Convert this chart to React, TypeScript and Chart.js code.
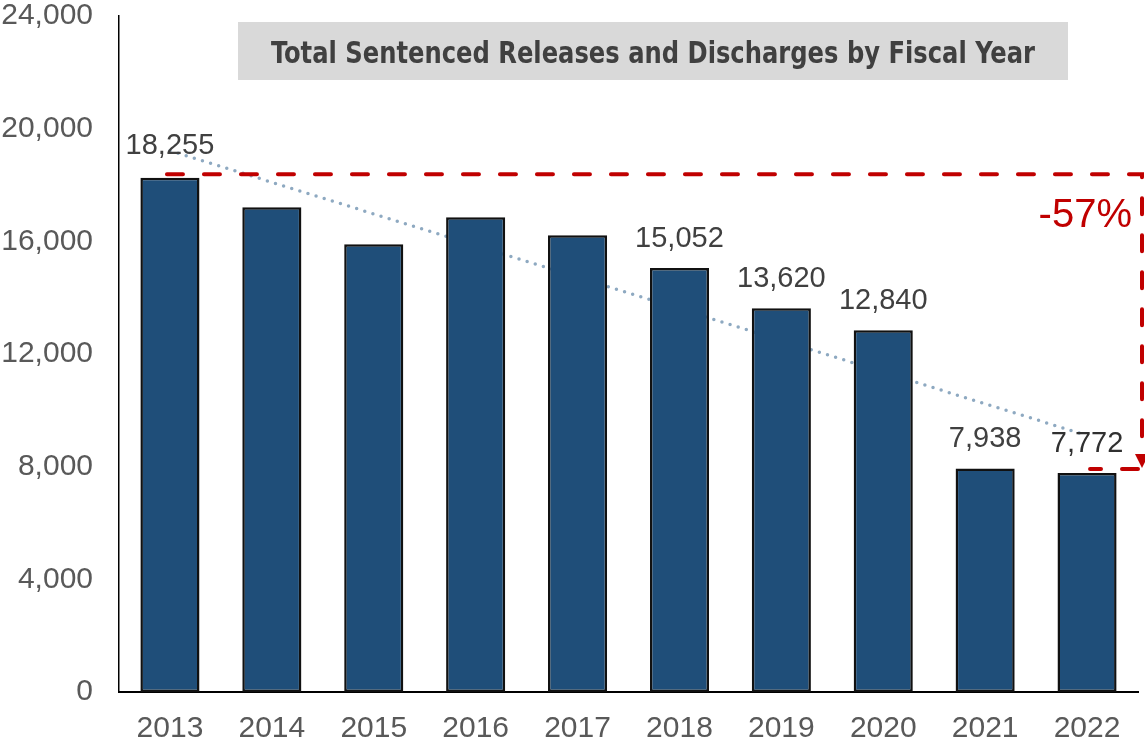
import React, { useEffect, useRef } from "react";
import { Chart, registerables } from "chart.js";

Chart.register(...registerables);

const years = ["2013", "2014", "2015", "2016", "2017", "2018", "2019", "2020", "2021", "2022"];
const releases = [18255, 17209, 15893, 16853, 16213, 15052, 13620, 12840, 7938, 7772];
const labelled = [true, false, false, false, false, true, true, true, true, true];
const trend = [19220, null, null, null, null, null, null, null, null, 9109];
const yTicks = [0, 4000, 8000, 12000, 16000, 20000, 24000];
const titleText = "Total Sentenced Releases and Discharges by Fiscal Year";
const changeText = "-57%";

const fmt = (v: number) => v.toLocaleString("en-US");

export default function App() {
  const ref = useRef<HTMLCanvasElement | null>(null);

  useEffect(() => {
    document.body.style.margin = "0";
    const canvas = ref.current;
    if (!canvas) return;

    const overlay = {
      id: "overlay",
      afterDatasetsDraw(chart: any) {
        const ctx = chart.ctx;
        const meta = chart.getDatasetMeta(1);
        const area = chart.chartArea;
        // data labels
        ctx.save();
        ctx.font = "29px 'Liberation Sans'";
        ctx.textAlign = "center";
        ctx.textBaseline = "middle";
        meta.data.forEach((bar: any, i: number) => {
          if (!labelled[i]) return;
          ctx.fillStyle = i === releases.length - 1 ? "#303030" : "#404040";
          ctx.fillText(fmt(releases[i]), bar.x, bar.y - (i === 0 ? 32 : 29));
        });
        ctx.restore();

        // red dashed annotation
        const first = meta.data[0];
        const last = meta.data[releases.length - 1];
        const yTop = first.y - 3.5;
        const yBot = last.y - 4;
        const xRight = area.right + 4;
        ctx.save();
        ctx.strokeStyle = "#C00000";
        ctx.lineWidth = 4;
        ctx.lineCap = "round";
        ctx.setLineDash([16, 21]);
        ctx.beginPath();
        ctx.moveTo(first.x - 3, yTop);
        ctx.lineTo(xRight, yTop);
        ctx.lineTo(xRight, yBot - 12);
        ctx.stroke();
        ctx.beginPath();
        ctx.moveTo(xRight - 4, yBot);
        ctx.lineTo(last.x + 3, yBot);
        ctx.stroke();
        ctx.setLineDash([]);
        ctx.fillStyle = "#C00000";
        ctx.beginPath();
        ctx.moveTo(xRight - 7, yBot - 15);
        ctx.lineTo(xRight + 7, yBot - 15);
        ctx.lineTo(xRight, yBot - 1);
        ctx.closePath();
        ctx.fill();
        ctx.font = "40px 'Liberation Sans'";
        ctx.textAlign = "right";
        ctx.textBaseline = "alphabetic";
        ctx.fillText(changeText, xRight - 10, yTop + 53);
        ctx.restore();

        // title box
        ctx.save();
        ctx.fillStyle = "#D9D9D9";
        ctx.fillRect(238, 22, 830, 58);
        ctx.fillStyle = "#404040";
        ctx.font = "bold 30px 'Liberation Sans Narrow', 'DejaVu Sans Condensed', sans-serif";
        ctx.textAlign = "center";
        ctx.textBaseline = "alphabetic";
        ctx.fillText(titleText, 653, 63, 764);
        ctx.restore();
      },
    };

    const chart = new Chart(canvas, {
      type: "bar",
      data: {
        labels: years,
        datasets: [
          {
            type: "line",
            data: trend as any,
            spanGaps: true,
            borderColor: "#8EA9C1",
            borderWidth: 3.5,
            borderDash: [0, 8.5],
            borderCapStyle: "round",
            pointRadius: 0,
            order: 2,
          } as any,
          {
            type: "bar",
            data: releases,
            backgroundColor: "#1F4E79",
            borderColor: "#111111",
            borderWidth: 2.5,
            borderSkipped: false,
            barPercentage: 0.58,
            categoryPercentage: 1,
            order: 1,
          },
        ],
      },
      options: {
        responsive: false,
        animation: false,
        layout: { padding: { top: 16, right: 7, left: 0, bottom: 0 } },
        plugins: { legend: { display: false }, tooltip: { enabled: false }, title: { display: false } },
        scales: {
          x: {
            offset: true,
            grid: { display: false, drawTicks: false },
            border: { display: true, color: "#000000", width: 2 },
            ticks: { color: "#595959", font: { family: "'Liberation Sans'", size: 30 }, padding: 19 },
            afterFit: (s: any) => { s.height = 48; s.paddingLeft = 0; s.paddingRight = 0; },
          },
          y: {
            min: 0,
            max: 24000,
            afterBuildTicks: (s: any) => { s.ticks = yTicks.map((v) => ({ value: v })); },
            grid: { display: false, drawTicks: false },
            border: { display: true, color: "#000000", width: 1.5 },
            ticks: {
              color: "#595959",
              font: { family: "'Liberation Sans'", size: 30 },
              padding: 26,
              callback: (v: any) => fmt(Number(v)),
            },
            afterFit: (s: any) => { s.width = 119; s.paddingTop = 0; s.paddingBottom = 0; },
          },
        },
      },
      plugins: [overlay],
    });
    return () => chart.destroy();
  }, []);

  return (
    <div style={{ width: 1145, height: 740, position: "relative" }}>
      <canvas ref={ref} width={1145} height={740} style={{ width: 1145, height: 740, display: "block" }} />
    </div>
  );
}
